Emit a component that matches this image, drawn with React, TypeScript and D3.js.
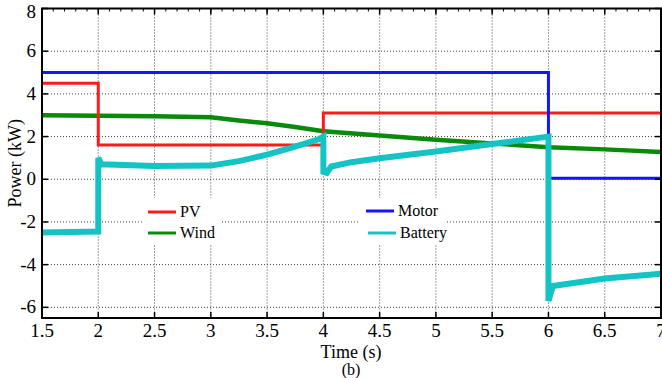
import { useEffect, useRef } from "react";
import * as d3 from "d3";

// series: [time (s), power (kW)]
const pvPoints: [number, number][] = [
  [1.5, 4.5], [2.0, 4.5], [2.0, 1.6], [4.0, 1.6], [4.0, 3.1], [7.0, 3.1],
];
const motorPoints: [number, number][] = [
  [1.5, 5.0], [6.0, 5.0], [6.0, 0.05], [7.0, 0.05],
];
const windPoints: [number, number][] = [
  [1.5, 3.0], [2.0, 2.98], [2.5, 2.95], [3.0, 2.9], [3.25, 2.75], [3.5, 2.62],
  [3.75, 2.45], [4.0, 2.25], [4.5, 2.05], [5.0, 1.85], [5.5, 1.68], [6.0, 1.5],
  [6.5, 1.4], [7.0, 1.28],
];
const batteryPoints: [number, number][] = [
  [1.5, -2.5], [2.0, -2.45], [2.0, 1.0], [2.03, 0.7], [2.5, 0.62], [3.0, 0.64],
  [3.25, 0.85], [3.5, 1.15], [3.75, 1.53], [3.95, 1.86], [4.0, 2.0], [4.0, 0.35],
  [4.03, 0.3], [4.07, 0.6], [4.25, 0.8], [4.5, 0.98], [5.0, 1.3], [5.5, 1.65],
  [6.0, 2.0], [6.0, -5.7], [6.04, -5.0], [6.1, -4.95], [6.5, -4.65], [7.0, -4.43],
];

const xTicks = [1.5, 2, 2.5, 3, 3.5, 4, 4.5, 5, 5.5, 6, 6.5, 7];
const yTicks = [-6, -4, -2, 0, 2, 4, 6, 8];

const App = () => {
  const ref = useRef<SVGSVGElement>(null);

  useEffect(() => {
    const width = 662;
    const height = 378;
    const left = 42, right = 661, top = 8.5, bottom = 318;

    const svg = d3.select(ref.current!);
    svg.selectAll("*").remove();
    svg.attr("width", width).attr("height", height);

    const x = d3.scaleLinear().domain([1.5, 7]).range([left, right]);
    const y = d3.scaleLinear().domain([-6.5, 8]).range([bottom, top]);

    svg.append("rect").attr("width", width).attr("height", height).attr("fill", "white");

    // grid
    const grid = svg.append("g").attr("stroke", "#444").attr("stroke-width", 1)
      .attr("stroke-dasharray", "1,2");
    xTicks.slice(1, -1).forEach(t => {
      grid.append("line").attr("x1", x(t)).attr("x2", x(t)).attr("y1", top).attr("y2", bottom);
    });
    yTicks.slice(0, -1).forEach(t => {
      grid.append("line").attr("x1", left).attr("x2", right).attr("y1", y(t)).attr("y2", y(t));
    });

    const line = d3.line<[number, number]>()
      .x(d => x(d[0]))
      .y(d => y(d[1]));

    const plot = svg.append("g");
    const series = [
      { pts: windPoints, color: "#0a8a0a", w: 4.5 },
      { pts: pvPoints, color: "#ff1a1a", w: 3 },
      { pts: motorPoints, color: "#1414ff", w: 3 },
      { pts: batteryPoints, color: "#14c4c4", w: 6 },
    ];
    series.forEach(s => {
      plot.append("path")
        .datum(s.pts)
        .attr("fill", "none")
        .attr("stroke", s.color)
        .attr("stroke-width", s.w)
        .attr("stroke-linejoin", "miter")
        .attr("d", line);
    });

    // legend boxes (white, covering the grid)
    svg.append("rect").attr("x", 142).attr("y", 198).attr("width", 78).attr("height", 47).attr("fill", "white");
    svg.append("rect").attr("x", 360).attr("y", 198).attr("width", 87).attr("height", 47).attr("fill", "white");

    // frame + ticks
    const axes = svg.append("g").attr("stroke", "black");
    axes.append("rect")
      .attr("x", left).attr("y", top)
      .attr("width", right - left).attr("height", bottom - top)
      .attr("fill", "none").attr("stroke-width", 2);
    xTicks.forEach(t => {
      axes.append("line").attr("x1", x(t)).attr("x2", x(t)).attr("y1", bottom).attr("y2", bottom - 6).attr("stroke-width", 1.5);
      axes.append("line").attr("x1", x(t)).attr("x2", x(t)).attr("y1", top).attr("y2", top + 6).attr("stroke-width", 1.5);
    });
    d3.range(15, 70).map(d => d / 10).forEach(t => {
      axes.append("line").attr("x1", x(t)).attr("x2", x(t)).attr("y1", top).attr("y2", top + 3).attr("stroke-width", 1);
    });
    yTicks.forEach(t => {
      axes.append("line").attr("x1", left).attr("x2", left + 6).attr("y1", y(t)).attr("y2", y(t)).attr("stroke-width", 1.5);
      axes.append("line").attr("x1", right).attr("x2", right - 6).attr("y1", y(t)).attr("y2", y(t)).attr("stroke-width", 1.5);
    });

    const txt = (sel: any) => sel.append("text").attr("font-family", "Liberation Serif").attr("fill", "black");

    xTicks.forEach(t => {
      txt(svg).attr("x", x(t)).attr("y", bottom + 19).attr("font-size", 19)
        .attr("text-anchor", "middle").text(String(t));
    });
    yTicks.forEach(t => {
      txt(svg).attr("x", 36).attr("y", Math.max(y(t), 12) + 6).attr("font-size", 19)
        .attr("text-anchor", "end").text(String(t));
    });
    txt(svg).attr("x", 351).attr("y", 358).attr("text-anchor", "middle")
      .attr("font-size", 18).text("Time (s)");
    txt(svg).attr("x", 351).attr("y", 375).attr("text-anchor", "middle")
      .attr("font-size", 16).text("(b)");
    txt(svg)
      .attr("transform", `translate(21,${(top + bottom) / 2}) rotate(-90)`)
      .attr("text-anchor", "middle").attr("font-size", 18).text("Power (kW)");

    // legend
    const legend = [
      { name: "PV", color: "#ff1a1a", lx: 148, ly: 212 },
      { name: "Wind", color: "#0a8a0a", lx: 148, ly: 233 },
      { name: "Motor", color: "#1414ff", lx: 366, ly: 211 },
      { name: "Battery", color: "#14c4c4", lx: 368, ly: 233 },
    ];
    legend.forEach(l => {
      svg.append("line").attr("x1", l.lx).attr("x2", l.lx + 28).attr("y1", l.ly).attr("y2", l.ly)
        .attr("stroke", l.color).attr("stroke-width", 3);
      txt(svg).attr("x", l.lx + 32).attr("y", l.ly + 5).attr("font-size", 16).text(l.name);
    });
  }, []);

  return (
    <svg ref={ref} style={{ position: "fixed", left: 0, top: 0, display: "block" }} />
  );
};

export default App;
